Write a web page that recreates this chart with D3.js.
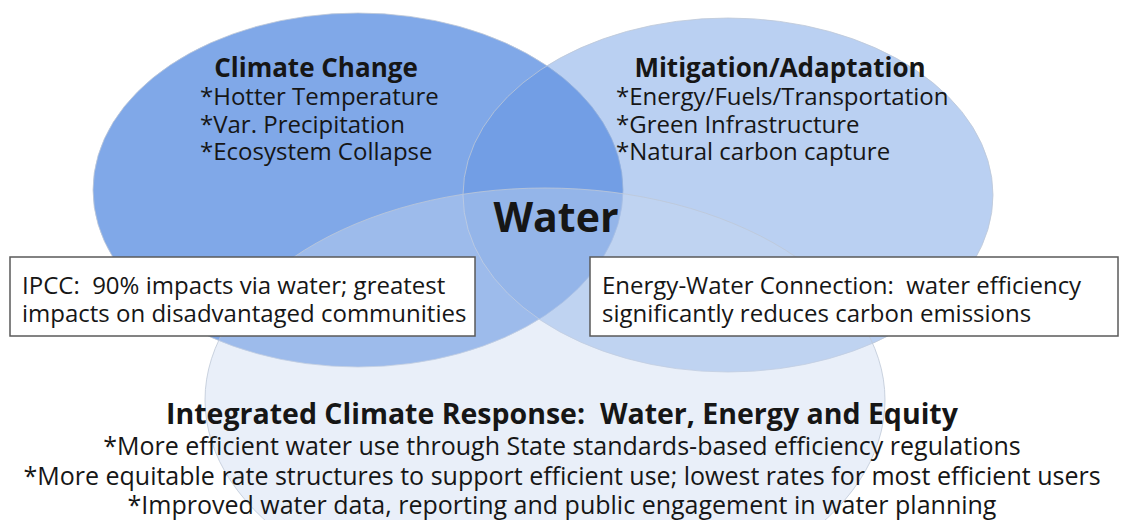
<!DOCTYPE html>
<html>
<head>
<meta charset="utf-8">
<script src="https://cdn.jsdelivr.net/npm/d3@7"></script>
<style>
	body { margin: 0; background: #fff; }
	svg { display: block; }
	text { white-space: pre; }
</style>
</head>
<body>
<svg id="chart"></svg>
<script>
// ---- content ----
const setTitles = [
	'Climate Change',
	'Mitigation/Adaptation',
	'Integrated Climate Response:  Water, Energy and Equity',
];
const climateItems = [
	'*Hotter Temperature',
	'*Var. Precipitation',
	'*Ecosystem Collapse',
];
const mitigationItems = [
	'*Energy/Fuels/Transportation',
	'*Green Infrastructure',
	'*Natural carbon capture',
];
const responseItems = [
	'*More efficient water use through State standards-based efficiency regulations',
	'*More equitable rate structures to support efficient use; lowest rates for most efficient users',
	'*Improved water data, reporting and public engagement in water planning',
];
const centerLabel = 'Water';
const leftNote = [
	'IPCC:  90% impacts via water; greatest',
	'impacts on disadvantaged communities',
];
const rightNote = [
	'Energy-Water Connection:  water efficiency',
	'significantly reduces carbon emissions',
];

// ---- layout ----
const width = 1125;
const height = 520;
const font = '"Open Sans", "Noto Sans", sans-serif';
const ink = '#161616';

const ellipses = [
	{ cx: 358, cy: 190, rx: 265, ry: 177, fill: 'rgb(128,168,232)' },
	{ cx: 728, cy: 195, rx: 265, ry: 177, fill: 'rgba(96,145,224,0.43)' },
	{ cx: 545, cy: 400, rx: 340, ry: 212, fill: 'rgba(200,215,240,0.4)' },
];

const svg = d3.select('#chart').attr('width', width).attr('height', height);

svg.selectAll('.set')
	.data(ellipses)
	.join('ellipse')
	.attr('class', 'set')
	.attr('cx', (d) => d.cx)
	.attr('cy', (d) => d.cy)
	.attr('rx', (d) => d.rx)
	.attr('ry', (d) => d.ry)
	.attr('fill', (d) => d.fill)
	.attr('stroke', 'rgba(190,200,215,0.8)')
	.attr('stroke-width', 1);

// helper: stack of lines at x, first baseline y0
function lines(g, items, x, y0, step, opts) {
	g.selectAll(null)
		.data(items)
		.join('text')
		.attr('x', x)
		.attr('y', (d, i) => y0 + i * step)
		.attr('text-anchor', opts.anchor || 'start')
		.attr('font-family', font)
		.attr('font-size', opts.size)
		.attr('font-weight', opts.weight || 400)
		.attr('fill', ink)
		.text((d) => d);
}

const labels = svg.append('g');

// set titles
lines(labels, [setTitles[0]], 316, 77, 0, { anchor: 'middle', size: 26, weight: 700 });
lines(labels, climateItems, 200, 105, 27.5, { size: 24 });
lines(labels, [setTitles[1]], 780, 77, 0, { anchor: 'middle', size: 26, weight: 700 });
lines(labels, mitigationItems, 616, 105, 27.5, { size: 24 });

// centre
lines(labels, [centerLabel], 556, 232, 0, { anchor: 'middle', size: 41, weight: 700 });

// note boxes
const notes = [
	{ text: leftNote, x: 10, w: 465 },
	{ text: rightNote, x: 590, w: 528 },
];
notes.forEach((n) => {
	const g = svg.append('g');
	g.append('rect')
		.attr('x', n.x)
		.attr('y', 257)
		.attr('width', n.w)
		.attr('height', 79)
		.attr('fill', '#fff')
		.attr('stroke', '#5a5a5a')
		.attr('stroke-width', 1.5);
	lines(g, n.text, n.x + 12, 294, 28, { size: 24 });
});

// bottom set
lines(labels, [setTitles[2]], 562, 424, 0, { anchor: 'middle', size: 28.5, weight: 700 });
lines(labels, responseItems, 562, 455, 29.5, { anchor: 'middle', size: 25 });
</script>
</body>
</html>
